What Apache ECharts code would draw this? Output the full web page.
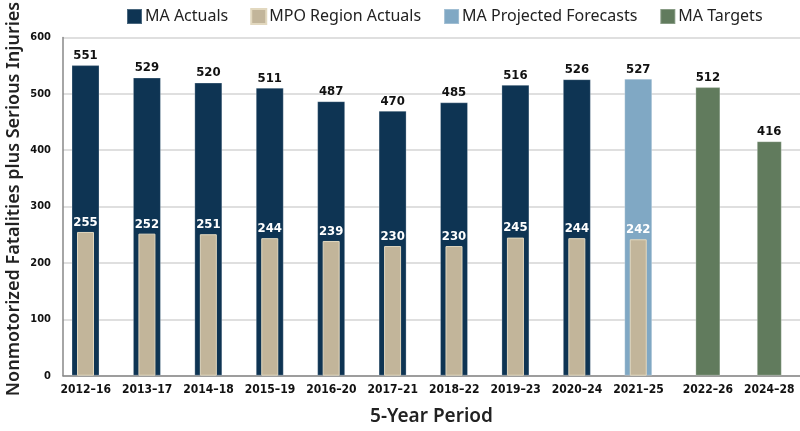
<!DOCTYPE html>
<html>
<head>
<meta charset="utf-8">
<script src="https://cdn.jsdelivr.net/npm/echarts@6/dist/echarts.min.js"></script>
<style>
html,body{margin:0;padding:0;background:#fff;}
#chart{width:800px;height:431px;}
</style>
</head>
<body>
<div id="chart"></div>
<script>
var categories = ['2012\u201316','2013\u201317','2014\u201318','2015\u201319','2016\u201320','2017\u201321','2018\u201322','2019\u201323','2020\u201324','2021\u201325','2022\u201326','2024\u201328'];
var maActuals = [551,529,520,511,487,470,485,516,526,'-','-','-'];
var mpoActuals = [255,252,251,244,239,230,230,245,244,242,'-','-'];
var maProjected = ['-','-','-','-','-','-','-','-','-',527,'-','-'];
var maTargets = ['-','-','-','-','-','-','-','-','-','-',512,416];
var yTicks = [0,100,200,300,400,500,600];
var empty = categories.map(function(){return '-';});

var condensed = "'Liberation Sans Narrow','DejaVu Sans Condensed','Roboto Condensed',sans-serif";
var sans = "'Noto Sans','Open Sans',sans-serif";
var labelFont = {fontFamily: condensed, fontWeight:'bold', fontSize:12, color:'#111'};

var chart = echarts.init(document.getElementById('chart'), null, {renderer:'canvas'});
var option = {
  animation: false,
  backgroundColor: '#fff',
  legend: {
    left: 121, top: 3,
    itemWidth: 15, itemHeight: 15, itemGap: 22,
    data: ['MA Actuals','MPO Region Actuals','MA Projected Forecasts','MA Targets'],
    textStyle: {fontFamily: sans, fontSize: 16, color: '#222', padding: [0,0,0,-2]},
    icon: 'rect'
  },
  grid: {left: 63, right: 0, top: 37.5, bottom: 55.3, containLabel: false, outerBoundsMode: 'none'},
  xAxis: [
    {type:'category', data: categories, gridIndex:0,
     axisLine:{show:true, lineStyle:{color:'#888', width:1.5}},
     axisTick:{show:false},
     axisLabel:{fontFamily: condensed, fontWeight:'bold', fontSize:12, color:'#111', margin:8, interval:0,
       formatter: function(v, i){ return (maTargets[i] === '-') ? '{a|' + v + '}' : '{b|' + v + '}'; },
       rich: {
         a: Object.assign({padding:[0,16,0,0]}, labelFont),
         b: Object.assign({}, labelFont)
       }},
     name:'5-Year Period', nameLocation:'middle', nameGap:31,
     nameTextStyle:{fontFamily: sans, fontWeight:600, fontSize:19, color:'#222'}},
    {type:'category', data: categories, show:false},
    {type:'category', data: categories, show:false}
  ],
  yAxis: {
    type:'value', min:0, max:600, interval:100,
    axisLine:{show:true, lineStyle:{color:'#888', width:1.5}},
    axisTick:{show:false},
    axisLabel:{fontFamily: condensed, fontWeight:'bold', fontSize:11, color:'#111', margin:12,
      formatter: function(v){ return yTicks.indexOf(v) >= 0 ? String(v) : ''; }},
    splitLine:{show:true, lineStyle:{color:'#d4d4d4', width:1.5}}
  },
  graphic: [{
    type:'text',
    rotation: Math.PI/2,
    x: 14, y: 199,
    style:{text:'Nonmotorized Fatalities plus Serious Injuries', fontFamily: sans, fontWeight:600, fontSize:18, fill:'#222',
      textAlign:'center', textVerticalAlign:'middle'}
  }],
  series: [
    {name:'MA Actuals', type:'bar', xAxisIndex:0, stack:'ma', barWidth:28, barGap:'0%', data: maActuals,
     itemStyle:{color:'#0e3453', borderColor:'rgba(255,255,255,0.25)', borderWidth:1},
     label:{show:true, position:'top', distance:3, fontFamily: condensed, fontWeight:'bold', fontSize:13, color:'#111'}},
    {name:'MA Projected Forecasts', type:'bar', xAxisIndex:0, stack:'ma', barWidth:28, barGap:'0%', data: maProjected,
     itemStyle:{color:'#80a8c4', borderColor:'rgba(255,255,255,0.25)', borderWidth:1},
     label:{show:true, position:'top', distance:3, fontFamily: condensed, fontWeight:'bold', fontSize:13, color:'#111'}},
    {name:'padA', type:'bar', xAxisIndex:0, stack:'padA', barWidth:16.4, barGap:'0%', data: empty, silent:true},
    {name:'MPO Region Actuals', type:'bar', xAxisIndex:1, barWidth:17, barGap:'0%', data: mpoActuals, z:3,
     itemStyle:{color:'#c2b59a', borderColor:'#e2d8bf', borderWidth:1},
     label:{show:true, position:'top', distance:3, fontFamily: condensed, fontWeight:'bold', fontSize:13, color:'#fff'}},
    {name:'padB', type:'bar', xAxisIndex:1, barWidth:16.4, barGap:'0%', data: empty, silent:true},
    {name:'MA Targets', type:'bar', xAxisIndex:2, barWidth:25, data: maTargets,
     itemStyle:{color:'#617b5d', borderColor:'rgba(255,255,255,0.25)', borderWidth:1},
     label:{show:true, position:'top', distance:3, fontFamily: condensed, fontWeight:'bold', fontSize:13, color:'#111'}}
  ]
};
chart.setOption(option);
</script>
</body>
</html>
